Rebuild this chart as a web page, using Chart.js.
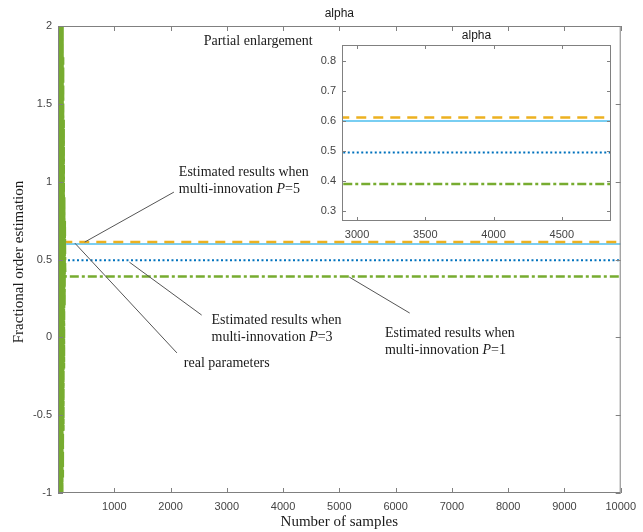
<!DOCTYPE html>
<html>
<head>
<meta charset="utf-8">
<script src="https://cdn.jsdelivr.net/npm/chart.js@4.4.0/dist/chart.umd.min.js"></script>
<style>
  html, body { margin: 0; padding: 0; background: #fff; }
  #wrap { position: relative; width: 643px; height: 532px; }
  #mainChart { position: absolute; left: 0; top: 0; }
  #zoomChart { position: absolute; left: 300px; top: 25px; }
</style>
</head>
<body>
<div id="wrap">
  <canvas id="mainChart" width="643" height="532"></canvas>
  <canvas id="zoomChart" width="330" height="220"></canvas>
</div>
<script>
const transientSamples = [1, 6, 11, 16, 21, 26, 31, 36, 41, 46, 51, 56, 61, 66, 71, 76, 81, 86, 91, 96, 101, 106, 111, 116, 121, 126, 131];
const lastSample = 10000;

// P=1 (green dash-dot)
const p1Transient = [2.5, -1.6, 2.4, -1.4, 2.3, -1.5, 2.2, -1.3, 2.4, -1.2, 2.1, -1.4, 2.2, -1.1, 2.3, -1.2, 2.0, -0.9, 1.8, -0.6, 1.4, -0.2, 0.9, 0.2, 0.75, 0.45, 0.39];
const p1Final = 0.39;
// P=5 (orange dashed)
const p5Transient = [2.3, 0.8, 2.2, 0.9, 2.1, 1.0, 1.9, 0.7, 1.8, 0.8, 1.6, 0.7, 1.4, 0.75, 1.2, 0.7, 1.0, 0.66, 0.8, 0.64, 0.7, 0.62, 0.65, 0.62, 0.61, 0.612, 0.612];
const p5Final = 0.612;
// P=3 (blue dotted)
const p3Transient = [-1.3, 0.4, -1.2, 0.3, -1.1, 0.5, -0.9, 0.2, -0.8, 0.4, -0.6, 0.3, -0.4, 0.5, -0.2, 0.45, 0.1, 0.48, 0.3, 0.5, 0.45, 0.49, 0.5, 0.495, 0.495, 0.495, 0.495];
const p3Final = 0.495;
// real parameter (light blue solid)
const realSamples = [1, 10000];
const realValues = [0.6, 0.6];

const mainXTicks = [1000, 2000, 3000, 4000, 5000, 6000, 7000, 8000, 9000, 10000];
const mainYTicks = [-1, -0.5, 0, 0.5, 1, 1.5, 2];
const zoomXTicks = [3000, 3500, 4000, 4500];
const zoomYTicks = [0.3, 0.4, 0.5, 0.6, 0.7, 0.8];

function series(samples, values, finalValue) {
  const pts = samples.map((s, i) => ({ x: s, y: values[i] }));
  if (finalValue !== undefined) pts.push({ x: lastSample, y: finalValue });
  return pts;
}

function makeDatasets() {
  return [
    { data: series(transientSamples, p1Transient, p1Final), borderColor: '#77AC30', borderWidth: 2.5, borderDash: [9, 3, 3, 3] },
    { data: series(transientSamples, p5Transient, p5Final), borderColor: '#EDB120', borderWidth: 2.5, borderDash: [10, 7] },
    { data: series(transientSamples, p3Transient, p3Final), borderColor: '#0072BD', borderWidth: 2, borderDash: [2, 2.5] },
    { data: series(realSamples, realValues), borderColor: '#4DBEEE', borderWidth: 1.5 }
  ];
}

const serif = '"Liberation Serif", "Times New Roman", serif';
const sans = '"Liberation Sans", Arial, sans-serif';

function boxAndTicks(chart, len) {
  const { ctx, chartArea: a, scales: { x, y } } = chart;
  ctx.save();
  ctx.strokeStyle = '#808080';
  ctx.lineWidth = 1;
  ctx.strokeRect(a.left + 0.5, a.top + 0.5, a.right - a.left - 1, a.bottom - a.top - 1);
  ctx.beginPath();
  x.ticks.forEach(t => {
    const px = Math.round(x.getPixelForValue(t.value)) + 0.5;
    ctx.moveTo(px, a.bottom); ctx.lineTo(px, a.bottom - len);
    ctx.moveTo(px, a.top); ctx.lineTo(px, a.top + len);
  });
  y.ticks.forEach(t => {
    const py = Math.round(y.getPixelForValue(t.value)) + 0.5;
    ctx.moveTo(a.left, py); ctx.lineTo(a.left + len, py);
    ctx.moveTo(a.right, py); ctx.lineTo(a.right - len, py);
  });
  ctx.stroke();
  ctx.restore();
}

// text pieces: plain strings, or [text, italic]
function drawPieces(ctx, pieces, x, y) {
  pieces.forEach(p => {
    const txt = typeof p === 'string' ? p : p[0];
    ctx.font = (typeof p === 'string' ? '' : 'italic ') + '14px ' + serif;
    ctx.fillText(txt, x, y);
    x += ctx.measureText(txt).width;
  });
}

// annotations in data units: text anchor and leader line
const notes = [
  { text: [['Estimated results when'], ['multi-innovation ', ['P', 1], '=5']], at: [2148, 1.062], from: [475, 0.612], to: [2060, 0.933] },
  { text: [['Estimated results when'], ['multi-innovation ', ['P', 1], '=3']], at: [2729, 0.111], from: [1268, 0.483], to: [2553, 0.143] },
  { text: [['real parameters']], at: [2236, -0.165], from: [300, 0.605], to: [2113, -0.1] },
  { text: [['Estimated results when'], ['multi-innovation ', ['P', 1], '=1']], at: [5810, 0.028], from: [5176, 0.387], to: [6250, 0.156] },
  { text: [['Partial enlargement']], at: [2588, 1.903] }
];

const mainDecor = {
  id: 'mainDecor',
  afterDatasetsDraw(chart) { boxAndTicks(chart, 5); },
  afterDraw(chart) {
    const { ctx, chartArea: a, scales: { x, y } } = chart;
    ctx.save();
    ctx.fillStyle = '#1a1a1a';
    ctx.textBaseline = 'middle';
    ctx.textAlign = 'center';
    ctx.font = '12px ' + sans;
    ctx.fillText('alpha', (a.left + a.right) / 2, 14);
    ctx.font = '15px ' + serif;
    ctx.fillText('Number of samples', (a.left + a.right) / 2, 522);
    ctx.save();
    ctx.translate(19, 262);
    ctx.rotate(-Math.PI / 2);
    ctx.fillText('Fractional order estimation', 0, 0);
    ctx.restore();

    ctx.textAlign = 'left';
    ctx.strokeStyle = '#555';
    ctx.lineWidth = 1;
    notes.forEach(n => {
      if (n.from) {
        ctx.beginPath();
        ctx.moveTo(x.getPixelForValue(n.from[0]), y.getPixelForValue(n.from[1]));
        ctx.lineTo(x.getPixelForValue(n.to[0]), y.getPixelForValue(n.to[1]));
        ctx.stroke();
      }
      const tx = x.getPixelForValue(n.at[0]);
      const ty = y.getPixelForValue(n.at[1]);
      n.text.forEach((line, i) => drawPieces(ctx, line, tx, ty + i * 17));
    });
    ctx.restore();
  }
};

const zoomDecor = {
  id: 'zoomDecor',
  beforeDatasetsDraw(chart) {
    const { ctx, chartArea: a } = chart;
    ctx.save();
    ctx.fillStyle = '#fff';
    ctx.fillRect(a.left, a.top, a.right - a.left, a.bottom - a.top);
    ctx.restore();
  },
  afterDatasetsDraw(chart) { boxAndTicks(chart, 4); },
  afterDraw(chart) {
    const { ctx, chartArea: a } = chart;
    ctx.save();
    ctx.fillStyle = '#1a1a1a';
    ctx.textAlign = 'center';
    ctx.textBaseline = 'middle';
    ctx.font = '12px ' + sans;
    ctx.fillText('alpha', (a.left + a.right) / 2, 11);
    ctx.restore();
  }
};

function axes(xMin, xMax, xTicks, yMin, yMax, yTicks, yWidth, xHeight) {
  const tickFont = { family: sans, size: 11 };
  return {
    x: {
      type: 'linear', min: xMin, max: xMax,
      grid: { display: false, drawTicks: false }, border: { display: false },
      afterBuildTicks: s => { s.ticks = xTicks.map(v => ({ value: v })); },
      afterFit: s => { s.height = xHeight; },
      ticks: { font: tickFont, color: '#444', padding: 7, maxRotation: 0, autoSkip: false, callback: v => String(v) }
    },
    y: {
      type: 'linear', min: yMin, max: yMax,
      grid: { display: false, drawTicks: false }, border: { display: false },
      afterBuildTicks: s => { s.ticks = yTicks.map(v => ({ value: v })); },
      afterFit: s => { s.width = yWidth; },
      ticks: { font: tickFont, color: '#444', padding: 6, autoSkip: false, callback: v => String(v) }
    }
  };
}

function makeChart(id, scales, padding, plugin) {
  return new Chart(document.getElementById(id), {
    type: 'line',
    data: { datasets: makeDatasets() },
    options: {
      responsive: false,
      animation: false,
      layout: { padding: padding },
      elements: { point: { radius: 0 }, line: { tension: 0, fill: false } },
      plugins: { legend: { display: false }, tooltip: { enabled: false } },
      scales: scales
    },
    plugins: [plugin]
  });
}

makeChart('mainChart', axes(0, 10000, mainXTicks, -1, 2, mainYTicks, 58, 39),
  { left: 0, right: 17, top: 26, bottom: 0 }, mainDecor);
makeChart('zoomChart', axes(2890, 4860, zoomXTicks, 0.267, 0.853, zoomYTicks, 42, 24),
  { left: 0, right: 19, top: 20, bottom: 0 }, zoomDecor);
</script>
</body>
</html>
